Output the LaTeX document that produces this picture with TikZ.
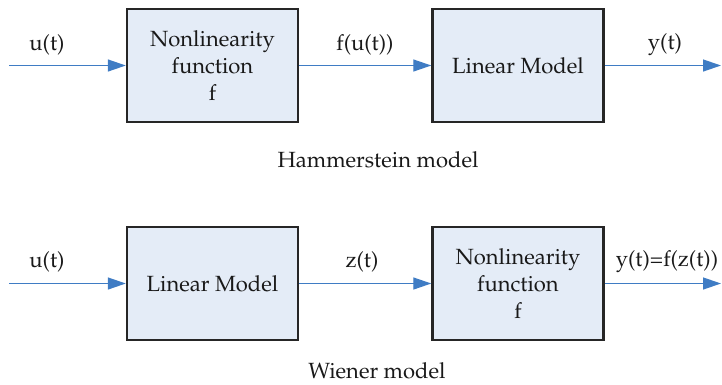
\documentclass[tikz,border=0pt]{standalone}
\usepackage[T1]{fontenc}
\usepackage{palatino}
\usetikzlibrary{arrows.meta}
\definecolor{boxfill}{HTML}{E4ECF7}
\definecolor{arrowblue}{HTML}{3F7CC4}
\begin{document}
\begin{tikzpicture}[x=1pt,y=-1pt,
  blk/.style={draw=black!85,line width=2.4pt,fill=boxfill,minimum width=171pt,minimum height=113pt,inner sep=0pt,align=center,font=\fontsize{22}{27}\selectfont,text=black!90},
  sig/.style={draw=arrowblue,line width=1.3pt,-{Triangle[length=18pt,width=12pt]}},
  lbl/.style={font=\fontsize{22}{27}\selectfont,text=black!90}]
\useasboundingbox (0,0) rectangle (722,384);
% Hammerstein
\node[blk] (h1) at (212.5,65.5) {Nonlinearity\\function\\f};
\node[blk] (h2) at (518,65.5) {Linear Model};
\coordinate (hin) at (9,65.5);
\coordinate (hout) at (721,65.5);
\draw[sig] (hin) -- (h1.west);
\draw[sig] (h1.east) -- (h2.west);
\draw[sig] (h2.east) -- (hout);
\node[lbl] (lu1) at (47,45) {u(t)};
\node[lbl] (lf) at (365,45) {f(u(t))};
\node[lbl] (ly1) at (665,45) {y(t)};
\node[lbl] (hcap) at (378,160) {Hammerstein model};
% Wiener
\node[blk] (w1) at (212.5,283.5) {Linear Model};
\node[blk] (w2) at (518,283.5) {Nonlinearity\\function\\f};
\coordinate (win) at (9,283.5);
\coordinate (wout) at (721,283.5);
\draw[sig] (win) -- (w1.west);
\draw[sig] (w1.east) -- (w2.west);
\draw[sig] (w2.east) -- (wout);
\node[lbl] (lu2) at (47,262) {u(t)};
\node[lbl] (lz) at (362,262) {z(t)};
\node[lbl] (ly2) at (667,262) {y(t)=f(z(t))};
\node[lbl] (wcap) at (377,371) {Wiener model};
\end{tikzpicture}
\end{document}
